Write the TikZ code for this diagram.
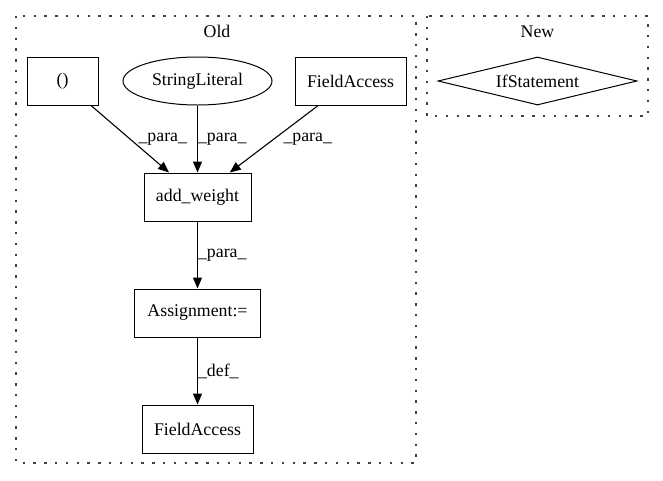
\documentclass[tikz,border=0pt]{standalone}
\usepackage{fontspec}
\setmainfont{Liberation Serif}
\usetikzlibrary{shapes.geometric,arrows.meta}
\begin{document}
\begin{tikzpicture}[x=1pt,y=-1pt,
  every node/.style={font=\fontsize{17.8}{20}\selectfont},
  box/.style={draw, line width=1pt, rectangle, minimum height=48pt, inner sep=0pt},
  oval/.style={draw, line width=1pt, ellipse, minimum height=48pt, inner sep=0pt},
  decision/.style={draw, line width=1pt, diamond, aspect=4.15, minimum width=199pt, minimum height=48pt, inner sep=0pt},
  cluster/.style={draw=black!75, line width=1.6pt, dash pattern=on 2.4pt off 8.4pt},
  edge/.style={line width=1.1pt, -{Triangle[length=11pt,width=9pt]}},
  lbl/.style={anchor=west, inner sep=0pt}
]
\useasboundingbox (0,0) rectangle (663,480);
% clusters
\draw[cluster] (16,16) rectangle (416,463);
\draw[cluster] (427,16) rectangle (648,116);
\node (oldlbl) at (217,31) {Old};
\node (newlbl) at (537.5,32) {New};
% nodes
\node[box, minimum width=71pt] (paren) at (62.5,81) {()};
\node[oval, minimum width=149pt] (str) at (197.5,81) {StringLiteral};
\node[box, minimum width=111pt] (fa1) at (350.5,81) {FieldAccess};
\node[box, minimum width=107pt] (aw) at (197.5,197) {add\_weight};
\node[box, minimum width=126pt] (asg) at (197.5,313) {Assignment:=};
\node[box, minimum width=111pt] (fa2) at (197.5,429) {FieldAccess};
\node[decision] (ifs) at (537.5,81) {IfStatement};
% edges
\draw[edge] (paren) -- node[lbl, pos=0.5, xshift=8pt] {\_para\_} (aw);
\draw[edge] (str) -- node[lbl, pos=0.5, xshift=0pt] {\_para\_} (aw);
\draw[edge] (fa1) -- node[lbl, pos=0.5, xshift=9pt] {\_para\_} (aw);
\draw[edge] (aw) -- node[lbl, pos=0.5] {\_para\_} (asg);
\draw[edge] (asg) -- node[lbl, pos=0.5] {\_def\_} (fa2);
\end{tikzpicture}
\end{document}
